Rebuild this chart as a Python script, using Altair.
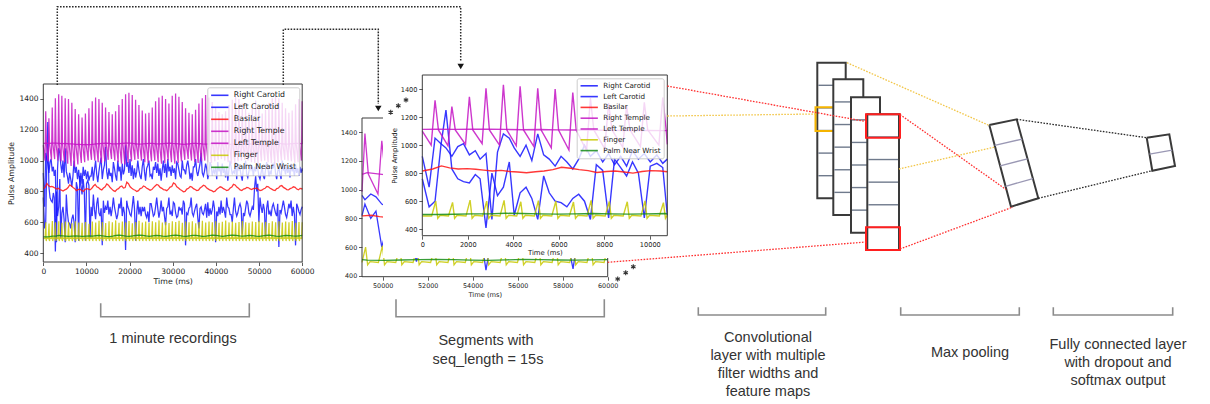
import altair as alt
import pandas as pd

# ---------------------------------------------------------------- signals
SERIES = ["Right Carotid", "Left Carotid", "Basilar", "Right Temple",
          "Left Temple", "Finger", "Palm Near Wrist"]
COLORS = ["#1414ff", "#1414ff", "#ff1414", "#c414c4", "#c414c4", "#c8c800", "#148c14"]

# time of every pulse (ms) over the one-minute recording
BEAT_MS = [
    560, 1300, 2070, 2800, 3565, 4300, 5075, 5840, 6615, 7390, 8190, 8980, 9760,
    10570, 11340, 12120, 12890, 13660, 14430, 15210, 15980, 16750, 17520, 18300, 19070, 19840,
    20610, 21390, 22160, 22930, 23700, 24480, 25250, 26020, 26790, 27570, 28340, 29110, 29880,
    30660, 31430, 32200, 32970, 33750, 34520, 35290, 36060, 36840, 37610, 38380, 39150, 39930,
    40700, 41470, 42240, 43020, 43790, 44560, 45330, 46110, 46880, 47650, 48420, 49210, 49960,
    50730, 51500, 52280, 53050, 53820, 54590, 55370, 56140, 56910, 57680, 58460, 59230, 59990,
]

# value of each series at t = 0 (SERIES order)
START = [920, 760, 815, 1100, 1112, 495, 505]

# carotid samples around every pulse (before, at, after)
R_CAROTID = [
    [700, 1050, 1010], [980, 920, 990], [1010, 930, 960], [900, 940, 470], [950, 1080, 1050], [980, 920, 1000], [890, 1080, 930],
    [900, 850, 920], [880, 830, 900], [1000, 920, 960], [880, 940, 860], [920, 850, 960], [900, 940, 880], [930, 870, 900],
    [900, 960, 870], [940, 1000, 910], [860, 930, 980], [1020, 880, 940], [970, 1090, 930], [880, 950, 900], [920, 860, 990],
    [950, 900, 870], [1000, 930, 960], [870, 980, 910], [940, 1100, 960], [990, 920, 1010], [900, 970, 880], [950, 890, 930],
    [1000, 940, 900], [880, 960, 1010], [930, 870, 950], [970, 1000, 900], [910, 880, 960], [940, 990, 920], [980, 900, 950],
    [870, 940, 1000], [920, 980, 890], [1010, 930, 960], [900, 970, 920], [950, 880, 990], [980, 940, 900], [890, 1000, 940],
    [940, 910, 970], [1000, 950, 880], [920, 870, 960], [960, 1010, 930], [900, 940, 980], [1050, 920, 900], [930, 980, 950],
    [880, 920, 990], [970, 900, 940], [920, 960, 880], [990, 930, 950], [900, 980, 920], [950, 890, 960], [870, 940, 1000],
    [960, 910, 930], [920, 990, 880], [980, 940, 950], [900, 870, 960], [950, 1000, 910], [890, 930, 970], [940, 960, 900],
    [960, 930, 970], [950, 900, 880], [920, 960, 900], [880, 940, 990], [960, 900, 930], [910, 980, 950], [990, 920, 880],
    [930, 960, 910], [880, 1000, 940], [950, 910, 970], [920, 960, 890], [980, 930, 950], [900, 970, 920], [950, 900, 960],
    [920, 950, 930],
]
L_CAROTID = [
    [560, 600, 1000], [1250, 830, 760], [740, 730, 790], [760, 410, 800], [640, 700, 880], [500, 660, 700], [620, 470, 780],
    [660, 600, 590], [560, 620, 650], [600, 470, 860], [820, 480, 900], [840, 780, 880], [800, 480, 850], [870, 840, 500],
    [700, 640, 780], [680, 620, 720], [760, 660, 640], [690, 450, 740], [660, 700, 680], [740, 650, 700], [640, 690, 760],
    [700, 660, 620], [650, 720, 690], [760, 640, 700], [660, 420, 740], [700, 680, 650], [640, 700, 770], [690, 480, 660],
    [740, 650, 700], [640, 700, 670], [700, 650, 630], [670, 600, 720], [720, 680, 640], [650, 700, 760], [690, 630, 670],
    [740, 670, 700], [640, 580, 690], [700, 760, 650], [670, 640, 730], [720, 660, 630], [640, 700, 680], [690, 650, 740],
    [720, 450, 660], [650, 690, 700], [760, 660, 640], [670, 700, 720], [630, 560, 690], [700, 660, 650], [680, 720, 630],
    [730, 640, 690], [650, 680, 740], [690, 470, 670], [640, 700, 650], [740, 660, 700], [670, 630, 760], [700, 690, 650],
    [650, 600, 690], [760, 670, 640], [660, 700, 720], [690, 520, 660], [640, 690, 740], [720, 660, 640], [670, 700, 680],
    [820, 900, 800], [850, 600, 760], [700, 660, 720], [680, 500, 690], [740, 650, 670], [640, 700, 720], [690, 660, 640],
    [720, 440, 680], [660, 700, 740], [700, 650, 630], [670, 720, 690], [740, 640, 700], [650, 450, 720], [700, 670, 650],
    [680, 700, 690],
]
BASILAR = [
    [830, 852], [838, 830], [832, 828], [822, 815], [820, 812], [808, 803], [810, 815],
    [825, 842], [835, 825], [818, 805], [812, 815], [808, 800], [812, 818], [815, 810],
    [820, 835], [845, 830], [825, 815], [810, 822], [830, 848], [840, 825], [815, 805],
    [800, 812], [818, 830], [835, 822], [825, 860], [850, 830], [820, 812], [808, 800],
    [805, 818], [822, 835], [830, 820], [815, 808], [812, 825], [835, 845], [840, 826],
    [820, 812], [810, 805], [815, 828], [832, 855], [848, 830], [822, 812], [806, 798],
    [800, 815], [820, 832], [828, 818], [812, 805], [808, 822], [830, 840], [835, 822],
    [815, 808], [805, 798], [802, 815], [822, 830], [826, 818], [812, 806], [810, 822],
    [828, 846], [842, 828], [820, 810], [806, 815], [818, 826], [824, 816], [812, 820],
    [818, 822], [812, 805], [808, 816], [820, 832], [830, 820], [815, 808], [806, 818],
    [822, 835], [838, 826], [820, 812], [810, 818], [822, 830], [826, 815], [810, 820],
    [818, 812],
]
R_TEMPLE_PEAK = [
    1320, 1275, 1345, 1405, 1430, 1420, 1405, 1400, 1375, 1335, 1300, 1280, 1305,
    1340, 1385, 1410, 1400, 1375, 1345, 1315, 1300, 1320, 1360, 1400, 1430, 1440,
    1425, 1395, 1360, 1325, 1305, 1310, 1345, 1385, 1410, 1420, 1400, 1370, 1420,
    1435, 1415, 1380, 1340, 1310, 1300, 1330, 1370, 1405, 1425, 1410, 1380, 1345,
    1315, 1300, 1320, 1360, 1395, 1415, 1400, 1370, 1335, 1310, 1350, 1390, 1340,
    1305, 1330, 1375, 1405, 1420, 1405, 1375, 1340, 1310, 1325, 1365, 1400, 1385,
]
R_TEMPLE_LOW = [
    1000, 995, 1005, 1010, 1000, 995, 990, 980, 965, 960, 975, 985, 990,
    1000, 1005, 1000, 990, 985, 995, 1005, 1010, 1000, 990, 980, 975, 985,
    995, 1005, 1010, 1000, 990, 985, 995, 1000, 990, 980, 985, 1000, 990,
    980, 985, 995, 1005, 1010, 1000, 990, 985, 995, 1000, 990, 985, 995,
    1005, 1010, 1000, 990, 980, 985, 995, 1000, 1005, 1000, 990, 985, 970,
    995, 1000, 990, 985, 980, 990, 1000, 1005, 1000, 995, 985, 990, 1000,
]
L_TEMPLE = [
    1113, 1112, 1114, 1113, 1112, 1110, 1111, 1109, 1108, 1106, 1105, 1104, 1104,
    1103, 1105, 1108, 1110, 1112, 1113, 1111, 1109, 1108, 1110, 1112, 1114, 1113,
    1111, 1109, 1107, 1108, 1110, 1112, 1111, 1109, 1108, 1110, 1112, 1113, 1111,
    1110, 1108, 1106, 1107, 1109, 1111, 1112, 1110, 1108, 1107, 1109, 1111, 1113,
    1112, 1110, 1108, 1106, 1107, 1109, 1110, 1112, 1111, 1109, 1107, 1118, 1104,
    1100, 1104, 1108, 1110, 1112, 1111, 1109, 1107, 1108, 1110, 1112, 1111, 1109,
]
FINGER_PEAK = [
    600, 592, 608, 600, 606, 596, 604, 600, 594, 606, 598, 596, 602,
    590, 605, 598, 610, 602, 595, 607, 600, 612, 596, 604, 600, 608,
    594, 602, 610, 598, 604, 596, 606, 600, 612, 598, 603, 595, 607,
    601, 609, 597, 604, 600, 606, 594, 602, 610, 598, 604, 600, 607,
    596, 603, 611, 599, 605, 597, 602, 608, 600, 596, 604, 601, 610,
    598, 603, 595, 607, 600, 606, 598, 604, 600, 608, 596, 602, 600,
]
PALM = [
    505, 507, 510, 510, 514, 512, 510, 508, 510, 512, 510, 508, 510,
    512, 510, 513, 515, 512, 509, 507, 510, 514, 516, 513, 510, 508,
    511, 515, 517, 514, 511, 509, 512, 515, 513, 510, 508, 511, 514,
    516, 513, 510, 509, 512, 515, 514, 511, 508, 510, 513, 516, 514,
    511, 509, 512, 515, 517, 514, 511, 510, 512, 514, 513, 510, 508,
    511, 514, 516, 513, 510, 509, 512, 515, 513, 511, 510, 512, 514,
]

# sample offsets (ms) relative to each pulse
CAROTID_AT = (-260, 0, 260)
BASILAR_AT = (-100, 280)
R_TEMPLE_AT = (-170, 0, 150)
R_TEMPLE_NOTCH = 1108
L_TEMPLE_AT = 100
FINGER_AT = (-150, 30, 120, 230)
FINGER_BASE, FINGER_DIP, FINGER_REST = 494, 478, 500
PALM_AT = 100

rows = [(s, 0, v) for s, v in zip(SERIES, START)]
for k, beat in enumerate(BEAT_MS):
    rows += [("Right Carotid", beat + o, v) for o, v in zip(CAROTID_AT, R_CAROTID[k])]
    rows += [("Left Carotid", beat + o, v) for o, v in zip(CAROTID_AT, L_CAROTID[k])]
    rows += [("Basilar", beat + o, v) for o, v in zip(BASILAR_AT, BASILAR[k])]
    rows += [("Right Temple", beat + o, v) for o, v in
             zip(R_TEMPLE_AT, (R_TEMPLE_LOW[k], R_TEMPLE_PEAK[k], R_TEMPLE_NOTCH))]
    rows.append(("Left Temple", beat + L_TEMPLE_AT, L_TEMPLE[k]))
    rows += [("Finger", beat + o, v) for o, v in
             zip(FINGER_AT, (FINGER_BASE, FINGER_PEAK[k], FINGER_DIP, FINGER_REST))]
    rows.append(("Palm Near Wrist", beat + PALM_AT, PALM[k]))

signals = pd.DataFrame(rows, columns=["series", "t", "v"])
signals["rank"] = signals["series"].map(SERIES.index)
signals = signals.sort_values(["rank", "t"], kind="stable").reset_index(drop=True)


def window(lo, hi):
    """Samples inside [lo, hi] plus one neighbour on each side (clamped to the frame)."""
    parts = []
    for _, g in signals.groupby("rank", sort=True):
        parts += [g[g.t < lo].tail(1), g[(g.t >= lo) & (g.t <= hi)], g[g.t > hi].head(1)]
    return pd.concat(parts).reset_index(drop=True)


# ---------------------------------------------------------------- panels
W, H = 1210, 404
FONT = "DejaVu Sans"
PANELS = {
    "minute": dict(t=[0, 60000], v=[342, 1497], px=[43.3, 302.2], py=[262, 84]),
    "tail": dict(t=[49080, 60000], v=[395, 1498], px=[362, 607.7], py=[276.7, 118]),
    "segment": dict(t=[0, 10770], v=[354, 1500], px=[422.3, 667.3], py=[235.7, 75]),
}


def t_scale(p):
    return alt.Scale(domain=p["t"], range=p["px"], nice=False, zero=False, clamp=True)


def v_scale(p):
    return alt.Scale(domain=p["v"], range=p["py"], nice=False, zero=False)


def axis(orient, offset, values, font, title, title_pad, zindex):
    kw = dict(orient=orient, offset=offset, values=values, format="d", grid=False, domain=False,
              tickSize=3.5, tickWidth=0.8, tickColor="#333333", labelFont=FONT, labelFontSize=font,
              labelColor="#222222", labelPadding=1.8, labelFlush=False, labelOverlap=False,
              zindex=zindex)
    if title:
        kw.update(title=title, titleFont=FONT, titleFontSize=font + 0.3, titleFontWeight="normal",
                  titleColor="#222222", titlePadding=title_pad)
    else:
        kw.update(title=None)
    return alt.Axis(**kw)


def panel_lines(p, data, width, legend):
    return alt.Chart(data).mark_line(strokeWidth=width, opacity=0.85).encode(
        x=alt.X("t:Q", scale=t_scale(p), axis=None),
        y=alt.Y("v:Q", scale=v_scale(p), axis=None),
        color=alt.Color("series:N", sort=SERIES,
                        scale=alt.Scale(domain=SERIES, range=COLORS), legend=legend),
        order=alt.Order("t:Q"),
    )


def panel_frame(p, x_axis, y_axis):
    box = pd.DataFrame({"t0": [p["t"][0]], "t1": [p["t"][1]], "v0": [p["v"][0]], "v1": [p["v"][1]]})
    return alt.Chart(box).mark_rect(filled=False, stroke="#3c3c3c", strokeWidth=1).encode(
        x=alt.X("t0:Q", scale=t_scale(p), axis=x_axis), x2="t1:Q",
        y=alt.Y("v0:Q", scale=v_scale(p), axis=y_axis), y2="v1:Q",
    )


def legend(x, y, font, entry_h, pad):
    return alt.Legend(orient="none", legendX=x, legendY=y, direction="vertical", title=None,
                      labelFont=FONT, labelFontSize=font, labelColor="#222222",
                      symbolType="stroke", symbolSize=300, symbolStrokeWidth=1.6,
                      clipHeight=entry_h, rowPadding=pad, padding=3, labelOffset=4.5,
                      fillColor="rgba(255,255,255,0.8)", strokeColor="#cccccc", cornerRadius=2)


Y_TICKS = [400, 600, 800, 1000, 1200, 1400]
pm, pt, ps = PANELS["minute"], PANELS["tail"], PANELS["segment"]

minute = [
    panel_lines(pm, window(0, 60000), 1.25, legend(207.3, 87.3, 7.8, 10, 2)),
    panel_frame(pm,
                axis("bottom", pm["py"][0] - H, list(range(0, 60001, 10000)), 7.5, "Time (ms)", 2.5, 0),
                axis("left", -pm["px"][0], Y_TICKS, 7.5, "Pulse Amplitude", 3.5, 0)),
]
tail = [
    panel_lines(pt, window(49080, 60000), 1.3, None),
    panel_frame(pt,
                axis("bottom", pt["py"][0] - H, list(range(50000, 60001, 2000)), 6.4, "Time (ms)", 3.5, 0),
                axis("left", -pt["px"][0], Y_TICKS, 6.4, None, 0, 0)),
]
segment = [
    panel_lines(ps, window(0, 10770), 1.4, legend(576.7, 78.3, 7.2, 9, 1.8)),
    panel_frame(ps,
                axis("bottom", ps["py"][0] - H, list(range(0, 10001, 2000)), 6.6, "Time (ms)", 2, 1),
                axis("left", -ps["px"][0], Y_TICKS, 6.6, "Pulse Amplitude", 3.2, 1)),
]

# ---------------------------------------------------------------- diagram (page coordinates)
def cx(field="x"):
    return alt.X(f"{field}:Q", axis=None,
                 scale=alt.Scale(domain=[0, W], range=[0, W], nice=False, zero=False))


def cy(field="y"):
    return alt.Y(f"{field}:Q", axis=None,
                 scale=alt.Scale(domain=[0, H], range=[0, H], nice=False, zero=False))


def polylines(paths, dash=None, width=1.4):
    data = pd.DataFrame([{"id": i, "k": k, "x": x, "y": y, "c": c}
                         for i, (c, pts) in enumerate(paths) for k, (x, y) in enumerate(pts)])
    kw = dict(strokeWidth=width, strokeCap="butt")
    if dash:
        kw["strokeDash"] = dash
    return alt.Chart(data).mark_line(**kw).encode(
        x=cx(), y=cy(), detail="id:N", order="k:Q", color=alt.Color("c:N", scale=None))


def boxes(rects, fill, stroke, width):
    data = pd.DataFrame(rects, columns=["x0", "x1", "y0", "y1"])
    kw = dict(stroke=stroke, strokeWidth=width)
    if fill:
        kw["fill"] = fill
    else:
        kw["filled"] = False
    return alt.Chart(data).mark_rect(**kw).encode(x=cx("x0"), x2="x1:Q", y=cy("y0"), y2="y1:Q")


def segments(segs, color, width):
    data = pd.DataFrame(segs, columns=["x0", "x1", "y0", "y1"])
    return alt.Chart(data).mark_rule(color=color, strokeWidth=width).encode(
        x=cx("x0"), x2="x1:Q", y=cy("y0"), y2="y1:Q")


BLACK, RED, GOLD, CELL = "#2a2a2a", "#ff3030", "#f2c648", "#6f7a8c"

TOP_LINKS = [
    (BLACK, [(57.3, 85), (57.3, 6.7), (460.7, 6.7), (460.7, 62)]),
    (BLACK, [(283.3, 85), (283.3, 29.3), (378.3, 29.3), (378.3, 104)]),
]
ARROW_TIPS = pd.DataFrame({"x": [378.3, 460.7], "y": [108.5, 66.5]})
ELLIPSIS = pd.DataFrame({"x": [390.7, 398.3, 406.0, 617.7, 625.7, 633.3],
                         "y": [112.3, 105.7, 100.0, 279.0, 272.7, 266.7]})
SEGMENT_SHEET = [(383, 672, 72, 258)]

# stacked feature maps: left, right, top, bottom
FEATURE_MAPS = [(817.3, 845.7, 62.7, 198.3), (833.3, 863.3, 79.3, 215.0),
                (851.0, 880.0, 97.3, 232.7), (867.3, 899.0, 114.3, 250.0)]
CELLS = 6
FILTER_GOLD = [(815.5, 845.0, 107.3, 131.0)]
FILTER_RED = [(866.0, 900.0, 114.3, 137.7), (866.0, 900.0, 227.3, 250.0)]

POOL = [(989.3, 125.0), (1016.7, 119.3), (1038.3, 198.3), (1011.0, 206.7)]
DENSE = [(1146.7, 137.7), (1169.3, 134.3), (1175.0, 166.0), (1152.3, 170.7)]

LINKS = [
    (RED, [(667.3, 86.0), (866.0, 121.5)]),
    (RED, [(607.7, 262.3), (866.0, 242.0)]),
    (RED, [(900.0, 114.5), (1006.0, 189.5)]),
    (RED, [(900.0, 249.0), (1013.0, 207.0)]),
    (GOLD, [(667.3, 116.0), (815.5, 114.0)]),
    (GOLD, [(847.0, 62.7), (989.3, 125.5)]),
    (GOLD, [(899.0, 169.0), (995.0, 147.0)]),
    (BLACK, [(1016.7, 119.3), (1146.7, 137.7)]),
    (BLACK, [(1038.3, 198.3), (1152.3, 170.7)]),
]

BRACKETS = [(100.7, 249.3, 303.3, 316.7), (396.0, 604.3, 299.3, 316.7), (698.3, 825.7, 307.3, 315.0),
            (900.7, 1019.3, 307.3, 315.0), (1053.3, 1172.7, 307.3, 315.0)]
CAPTIONS = [
    ("1 minute recordings", 173, 339),
    ("Segments with", 486, 341), ("seq_length = 15s", 488, 360),
    ("Convolutional", 768, 338), ("layer with multiple", 768, 356),
    ("filter widths and", 768, 374), ("feature maps", 768, 392),
    ("Max pooling", 970, 353),
    ("Fully connected layer", 1118, 345), ("with dropout and", 1118, 363),
    ("softmax output", 1118, 381),
]

ASTERISK = "M0,-1L0,1M-0.87,-0.5L0.87,0.5M-0.87,0.5L0.87,-0.5"


def quad_dividers(q, parts):
    (x0, y0), (x1, y1), (x2, y2), (x3, y3) = q
    out = []
    for i in range(1, parts):
        f = i / parts
        out.append((x0 + f * (x3 - x0), x1 + f * (x2 - x1), y0 + f * (y3 - y0), y1 + f * (y2 - y1)))
    return out


cover = [boxes(SEGMENT_SHEET, "white", "white", 0)]

overlay = [
    polylines(TOP_LINKS, dash=[1.6, 1.4], width=1.5),
    alt.Chart(ARROW_TIPS).mark_point(shape="triangle-down", filled=True, size=42,
                                     color="#151515", opacity=1).encode(x=cx(), y=cy()),
    alt.Chart(ELLIPSIS).mark_point(shape=ASTERISK, size=26, strokeWidth=1.1,
                                   color="#333333", opacity=1).encode(x=cx(), y=cy()),
]

network = []
for i, (l, r, t, b) in enumerate(FEATURE_MAPS):
    network.append(boxes([(l, r, t, b)], "white", "#3a3a3a", 2))
    step = (b - t) / CELLS
    network.append(segments([(l + 1, r - 1, t + j * step, t + j * step) for j in range(1, CELLS)], CELL, 1.4))
    if i == 0:
        network.append(boxes(FILTER_GOLD, None, "#f5b400", 2))
network.append(boxes(FILTER_RED, None, "#ff1f1f", 2))
network.append(polylines([("#3a3a3a", POOL + POOL[:1]), ("#3a3a3a", DENSE + DENSE[:1])], width=2))
network.append(segments(quad_dividers(POOL, 4) + quad_dividers(DENSE, 2), "#9a98b4", 1.3))
network.append(polylines(LINKS, dash=[1.6, 1.4], width=1.3))
network.append(polylines([("#8c8c8c", [(a, bb), (a, c), (b_, c), (b_, bb)]) for a, b_, bb, c in BRACKETS],
                         width=1.6))
network.append(alt.Chart(pd.DataFrame(CAPTIONS, columns=["label", "x", "y"])).mark_text(
    font="Liberation Sans", fontSize=14.5, color="#333333", align="center", baseline="middle"
).encode(x=cx(), y=cy(), text="label:N"))

chart = alt.layer(*(minute + tail + cover + segment + overlay + network)).resolve_scale(
    x="independent", y="independent", color="independent"
).resolve_axis(x="independent", y="independent").resolve_legend(color="independent").properties(
    width=W, height=H, padding=0, background="white",
    autosize=alt.AutoSizeParams(type="none"),
).configure_view(strokeWidth=0)

chart.save("out.html", embed_options={"renderer": "svg", "actions": False})
